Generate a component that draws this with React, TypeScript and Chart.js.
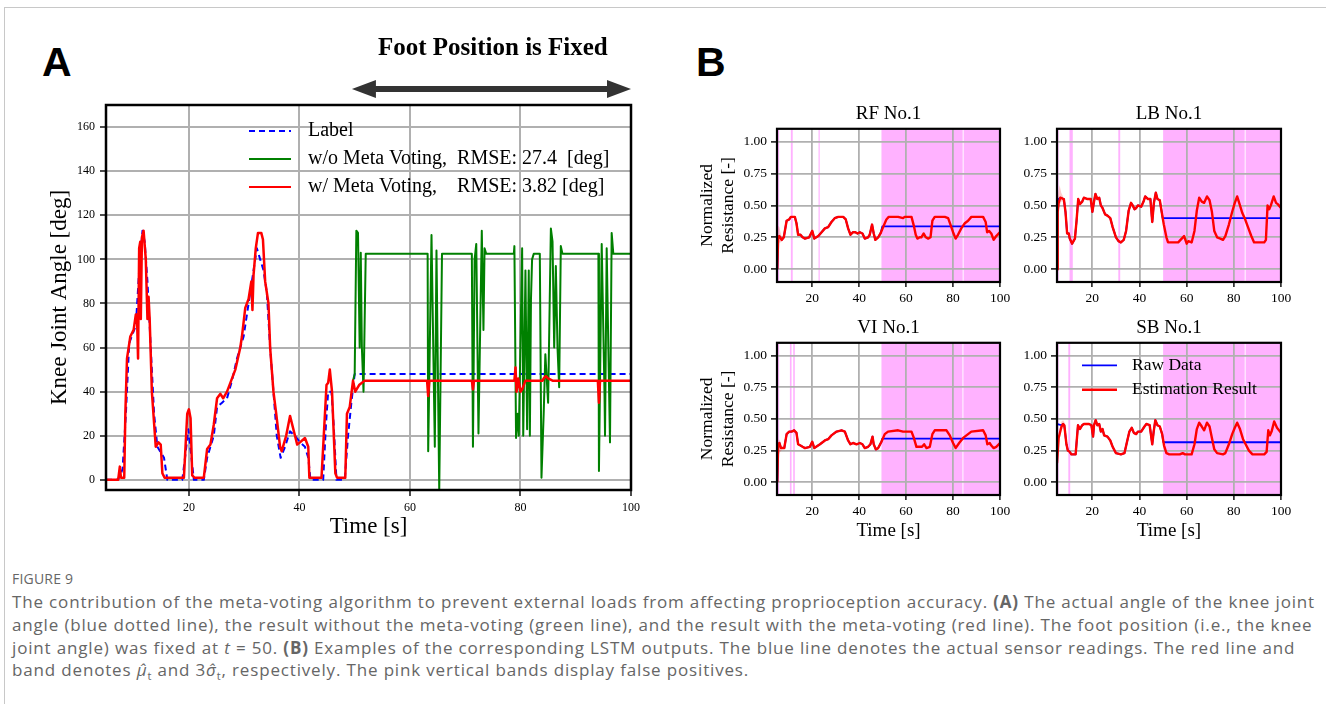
import React, { useEffect, useRef } from 'react';
import { Chart, registerables } from 'chart.js';

Chart.register(...registerables);

const SERIF = "'Liberation Serif', 'Times New Roman', Times, serif";
const SANS = "'Open Sans', 'Noto Sans', Arial, sans-serif";
const GRID = '#b0b0b0';
const PINK = 'rgba(255, 0, 255, 0.3)';
const BAND = 'rgba(255, 0, 0, 0.2)';
const BLUE = '#0000ff';
const RED = '#ff0000';
const GREEN = '#008000';

// ---------------- Panel A ----------------
const aTimeTicks = [20, 40, 60, 80, 100];
const aAngleTicks = [0, 20, 40, 60, 80, 100, 120, 140, 160];

const labelTime = [5.0, 7.1, 7.6, 8.0, 8.6, 9.2, 10.4, 11.0, 11.6, 12.0, 12.5, 13.1, 13.7, 14.3, 15.5, 16.1, 18.8, 19.4, 19.9, 20.9, 22.7, 23.3, 23.9, 24.5, 25.1, 26.0, 26.9, 27.8, 28.7, 29.9, 30.8, 31.7, 32.3, 32.9, 33.5, 34.1, 34.7, 35.3, 35.9, 36.6, 37.4, 38.3, 39.2, 40.1, 41.0, 41.6, 42.0, 44.3, 44.8, 45.2, 45.8, 46.2, 46.7, 48.2, 48.8, 49.4, 50.0, 100];
const labelAngle = [0, 0, 2, 5, 30, 62, 70, 95, 113, 108, 90, 60, 30, 15, 10, 0, 0, 12, 23, 0, 0, 10, 15, 20, 33, 35, 37, 45, 55, 65, 80, 95, 105, 100, 95, 85, 60, 40, 20, 10, 15, 22, 20, 17, 15, 10, 0, 0, 25, 40, 40, 25, 0, 0, 20, 35, 48, 48];

const woTime = [49.7, 50.0, 50.3, 50.6, 50.9, 51.1, 51.3, 51.6, 52.0, 63.2, 63.3, 63.9, 64.5, 64.8, 65.3, 65.8, 71.2, 71.4, 71.7, 72.0, 72.4, 73.0, 73.3, 73.5, 73.8, 78.8, 78.9, 79.2, 79.5, 79.7, 80.3, 80.5, 80.9, 81.2, 81.5, 81.7, 81.9, 82.1, 82.4, 83.5, 83.8, 84.2, 84.5, 85.0, 85.5, 85.8, 86.1, 86.4, 86.7, 87.0, 87.3, 87.6, 94.1, 94.2, 94.7, 95.2, 95.3, 95.6, 95.9, 96.2, 96.5, 96.8, 100];
const woAngle = [45, 48, 113, 112, 60, 103, 60, 40, 102.5, 102.5, 13, 111, 15, 104, -4.5, 102.5, 102.5, 15, 100, 107, 21, 113, 68, 105, 102.5, 102.5, 106, 19, 30, 20, 105, 20, 95, 23, 95, 20, 82, 100, 102.5, 102.5, 1, 30, 57, 35, 114, 108, 60, 97, 60, 42, 106, 102.5, 102.5, 4, 107, 40, 20, 105, 60, 17, 112, 102.5, 102.5];

const wTime = [5.0, 7.2, 7.5, 7.7, 8.3, 8.5, 8.8, 9.4, 10.0, 10.4, 10.6, 10.8, 11.0, 11.2, 11.3, 11.5, 11.8, 12.2, 12.5, 12.7, 12.9, 13.3, 14.0, 14.5, 14.9, 15.2, 15.6, 19.1, 19.7, 20.0, 20.3, 20.6, 21.0, 22.7, 23.3, 23.9, 24.5, 25.1, 25.7, 26.2, 26.9, 27.5, 28.4, 29.3, 29.6, 30.2, 30.8, 31.3, 31.5, 31.7, 32.1, 32.5, 33.1, 33.4, 33.8, 34.4, 34.7, 35.3, 35.8, 36.5, 36.8, 37.6, 38.3, 39.2, 39.6, 40.1, 41.0, 41.6, 41.8, 44.0, 44.9, 45.2, 45.5, 45.9, 46.5, 46.8, 48.3, 48.6, 49.1, 49.7, 50.1, 50.8, 51.8, 63.1, 63.3, 63.5, 71.2, 71.4, 71.6, 78.9, 79.1, 79.3, 79.6, 80.0, 80.3, 80.9, 84.0, 84.2, 84.6, 85.0, 85.8, 94.0, 94.2, 94.4, 100];
const wAngle = [0, 0, 6, 1, 1, 30, 55, 65, 68, 75, 75, 55, 105, 108, 73, 110, 113, 100, 73, 83, 73, 40, 15, 17, 16, 3, 1, 1, 30, 32, 28, 2, 1, 1, 14, 16, 25, 37, 39, 37, 40, 44, 50, 60, 65, 78, 82, 90, 77, 93, 105, 112, 112, 109, 90, 80, 60, 40, 30, 15, 13, 20, 29, 20, 16, 17, 19, 15, 1, 1, 43, 44, 50, 40, 3, 1, 1, 30, 33, 45, 40, 43, 45, 45, 38, 45, 45, 41, 45, 45, 51, 40, 46, 40, 41, 45, 45, 46, 47, 46, 45, 45, 35, 45, 45];

// ---------------- Panel B ----------------
const bTimeTicks = [20, 40, 60, 80, 100];
const bResTicks = [0, 0.25, 0.5, 0.75, 1.0];

const rfTime = [5.1, 5.5, 6.0, 7.0, 7.9, 9.1, 10.2, 10.9, 12.6, 13.3, 14.0, 15.0, 15.9, 16.9, 18.7, 20.0, 20.9, 22.6, 24.0, 25.4, 26.8, 28.2, 29.6, 31.1, 33.2, 34.3, 35.3, 36.3, 37.4, 38.4, 39.3, 40.3, 41.4, 42.4, 43.8, 44.5, 45.5, 46.2, 46.9, 48.1, 49.1, 50.2, 51.6, 52.6, 56.6, 58.7, 59.4, 62.3, 63.3, 64.1, 64.8, 65.8, 66.5, 67.5, 68.4, 69.4, 70.4, 71.2, 72.2, 76.5, 77.9, 78.9, 80.0, 81.1, 82.1, 83.5, 85.0, 86.4, 87.8, 92.8, 93.9, 94.5, 95.3, 96.3, 97.3, 98.4, 100];
const rfEst = [0.0, 0.25, 0.26, 0.23, 0.25, 0.38, 0.39, 0.41, 0.41, 0.36, 0.27, 0.27, 0.25, 0.24, 0.25, 0.30, 0.24, 0.26, 0.29, 0.32, 0.33, 0.37, 0.40, 0.41, 0.41, 0.39, 0.32, 0.27, 0.29, 0.29, 0.28, 0.29, 0.28, 0.24, 0.25, 0.27, 0.35, 0.28, 0.23, 0.25, 0.28, 0.33, 0.39, 0.41, 0.41, 0.40, 0.41, 0.41, 0.34, 0.27, 0.24, 0.25, 0.25, 0.28, 0.25, 0.24, 0.25, 0.38, 0.41, 0.41, 0.40, 0.35, 0.29, 0.24, 0.27, 0.32, 0.36, 0.38, 0.41, 0.41, 0.37, 0.29, 0.30, 0.28, 0.23, 0.26, 0.29];
const rfRawLevel = 0.336;
const rfFixTime = 49.9;
const rfBands = [[5.1, 5.9], [10.9, 11.7], [22.7, 23.2], [49.5, 84.1], [84.5, 100]];
const rfSigmaTime = [5.2, 5.6, 6.0, 6.5, 7.0];
const rfSigmaHi = [0.28, 0.34, 0.33, 0.29, 0.26];
const rfSigmaLo = [0.05, 0.19, 0.21, 0.21, 0.22];

const lbTime = [5.0, 5.3, 5.7, 6.4, 7.9, 8.6, 9.3, 10.0, 10.4, 11.4, 12.6, 13.3, 14.0, 14.7, 15.7, 16.4, 17.9, 19.3, 20.0, 20.7, 21.3, 22.1, 22.9, 23.6, 24.3, 25.4, 26.4, 27.6, 28.6, 30.0, 31.1, 32.1, 33.3, 34.3, 35.4, 36.4, 37.1, 37.9, 38.6, 39.3, 40.7, 41.7, 42.4, 43.6, 44.6, 45.4, 46.1, 46.9, 47.6, 48.6, 49.3, 50.3, 51.4, 52.1, 56.4, 57.9, 58.9, 60.0, 60.7, 62.1, 63.3, 64.3, 65.3, 66.4, 67.4, 68.6, 69.7, 70.7, 71.7, 72.9, 74.3, 75.4, 76.4, 77.9, 79.3, 80.4, 81.4, 82.6, 83.6, 84.6, 86.0, 87.4, 88.6, 92.9, 93.6, 94.3, 95.0, 95.7, 96.9, 97.9, 98.6, 100];
const lbEst = [0.0, 0.45, 0.52, 0.56, 0.55, 0.45, 0.28, 0.28, 0.24, 0.20, 0.24, 0.38, 0.55, 0.51, 0.53, 0.56, 0.55, 0.55, 0.45, 0.53, 0.59, 0.55, 0.56, 0.50, 0.48, 0.43, 0.42, 0.40, 0.33, 0.25, 0.22, 0.21, 0.23, 0.30, 0.46, 0.52, 0.50, 0.47, 0.48, 0.50, 0.49, 0.53, 0.57, 0.55, 0.55, 0.37, 0.52, 0.60, 0.55, 0.54, 0.46, 0.35, 0.25, 0.21, 0.21, 0.24, 0.26, 0.20, 0.22, 0.21, 0.30, 0.46, 0.56, 0.53, 0.52, 0.57, 0.54, 0.45, 0.30, 0.25, 0.24, 0.23, 0.26, 0.35, 0.45, 0.52, 0.57, 0.50, 0.44, 0.40, 0.33, 0.26, 0.21, 0.21, 0.23, 0.50, 0.47, 0.50, 0.57, 0.52, 0.51, 0.48];
const lbRawHeadTime = [5.0, 5.7];
const lbRawHead = [0.50, 0.55];
const lbRawLevel = 0.40;
const lbFixTime = 49.8;
const lbBands = [[5.0, 5.7], [10.3, 11.7], [31.0, 31.8], [50.0, 84.6], [85.0, 100]];
const lbSigmaTime = [5.2, 5.6, 6.1, 6.8, 7.6];
const lbSigmaHi = [0.50, 0.60, 0.66, 0.60, 0.57];
const lbSigmaLo = [0.30, 0.46, 0.50, 0.53, 0.53];

const viTime = [5.1, 5.5, 6.0, 6.7, 8.1, 9.1, 10.2, 11.2, 12.3, 13.3, 14.0, 15.0, 15.9, 16.9, 19.0, 20.0, 20.9, 23.3, 25.4, 26.8, 28.2, 30.4, 32.5, 33.9, 35.3, 36.3, 37.4, 38.9, 40.3, 41.4, 42.4, 43.8, 44.8, 45.7, 46.2, 47.1, 48.1, 49.5, 50.9, 52.3, 56.6, 58.7, 62.3, 63.3, 64.4, 65.5, 66.8, 67.7, 68.7, 70.1, 71.2, 72.2, 77.2, 78.6, 80.0, 81.1, 82.6, 84.3, 86.4, 87.8, 92.8, 93.9, 94.6, 95.6, 96.3, 97.3, 98.4, 100];
const viEst = [0.0, 0.30, 0.31, 0.27, 0.27, 0.38, 0.40, 0.40, 0.41, 0.39, 0.30, 0.29, 0.28, 0.27, 0.28, 0.32, 0.27, 0.30, 0.33, 0.34, 0.37, 0.40, 0.41, 0.40, 0.33, 0.30, 0.31, 0.30, 0.31, 0.30, 0.27, 0.28, 0.30, 0.36, 0.30, 0.26, 0.27, 0.32, 0.38, 0.40, 0.41, 0.40, 0.40, 0.35, 0.28, 0.28, 0.28, 0.30, 0.27, 0.28, 0.38, 0.41, 0.41, 0.37, 0.31, 0.27, 0.31, 0.35, 0.38, 0.40, 0.41, 0.37, 0.30, 0.31, 0.29, 0.27, 0.28, 0.31];
const viRawLevel = 0.345;
const viFixTime = 49.9;
const viBands = [[5.1, 5.9], [10.5, 11.2], [11.9, 12.6], [49.5, 84.0], [84.4, 100]];
const viSigmaTime = [5.3, 5.8, 6.3, 7.0];
const viSigmaHi = [0.30, 0.34, 0.33, 0.29];
const viSigmaLo = [0.10, 0.22, 0.24, 0.25];

const sbTime = [5.0, 5.7, 6.9, 7.6, 8.1, 9.0, 9.6, 10.4, 11.1, 12.9, 13.9, 14.7, 15.7, 16.4, 18.6, 19.6, 20.3, 20.7, 21.4, 22.1, 22.9, 23.6, 24.3, 25.0, 26.4, 27.6, 28.6, 30.0, 32.1, 33.6, 34.7, 35.7, 36.7, 37.6, 38.6, 39.3, 40.7, 42.1, 42.9, 44.3, 45.4, 46.0, 46.7, 47.6, 48.6, 49.6, 50.4, 51.4, 52.6, 57.1, 58.3, 59.3, 62.1, 63.3, 64.3, 65.3, 66.4, 67.4, 68.6, 69.7, 70.7, 71.7, 72.9, 75.4, 76.4, 77.9, 79.3, 80.4, 81.4, 82.6, 83.9, 85.0, 86.4, 87.9, 92.9, 93.9, 94.6, 95.3, 96.0, 97.1, 98.3, 100];
const sbEst = [0.15, 0.35, 0.44, 0.46, 0.45, 0.30, 0.25, 0.24, 0.22, 0.22, 0.45, 0.42, 0.45, 0.46, 0.46, 0.45, 0.36, 0.45, 0.49, 0.45, 0.46, 0.40, 0.42, 0.37, 0.36, 0.33, 0.28, 0.23, 0.22, 0.23, 0.32, 0.40, 0.43, 0.39, 0.38, 0.40, 0.40, 0.44, 0.46, 0.45, 0.30, 0.40, 0.49, 0.45, 0.44, 0.38, 0.29, 0.23, 0.22, 0.22, 0.23, 0.22, 0.22, 0.30, 0.42, 0.47, 0.44, 0.41, 0.47, 0.44, 0.35, 0.26, 0.23, 0.22, 0.23, 0.30, 0.38, 0.43, 0.47, 0.42, 0.34, 0.30, 0.25, 0.22, 0.22, 0.24, 0.41, 0.37, 0.40, 0.48, 0.43, 0.39];
const sbRawHeadTime = [5.0, 6.9];
const sbRawHead = [0.46, 0.45];
const sbRawLevel = 0.316;
const sbFixTime = 50.1;
const sbBands = [[5.0, 5.7], [9.8, 10.6], [50.0, 84.6], [85.0, 100]];
const sbSigmaTime = [6.0, 6.9, 7.6, 8.3];
const sbSigmaHi = [0.42, 0.48, 0.49, 0.47];
const sbSigmaLo = [0.33, 0.41, 0.43, 0.42];

// ---------------- helpers ----------------
type Pt = { x: number; y: number };
const pts = (xs: number[], ys: number[]): Pt[] => xs.map((x, i) => ({ x, y: ys[i] }));

function rawSeries(time: number[], est: number[], headT: number[], headY: number[], fixT: number, level: number): Pt[] {
  const out: Pt[] = headT.map((t, i) => ({ x: t, y: headY[i] }));
  const start = headT.length ? headT[headT.length - 1] : -1;
  time.forEach((t, i) => {
    if (t > start && t < fixT) out.push({ x: t, y: est[i] });
  });
  out.push({ x: fixT, y: level }, { x: 100, y: level });
  return out;
}

interface LegendItem { text: string; color: string; width: number; dash?: number[] }
interface Decor {
  bands?: number[][];
  frameWidth: number;
  legend?: { dx: number; dy: number; rowH: number; lineLen: number; textDx: number; font: string; items: LegendItem[] };
  header?: { text: string; font: string; textT: number; textDy: number; fromT: number; toT: number; arrowDy: number };
}

function decorPlugin(d: Decor) {
  return {
    id: 'decor',
    beforeDraw(chart: any) {
      if (!d.bands) return;
      const { ctx, chartArea: ca, scales } = chart;
      const xs = scales.x;
      ctx.save();
      ctx.fillStyle = PINK;
      d.bands.forEach(([a, b]) => {
        const x0 = xs.getPixelForValue(a);
        const x1 = xs.getPixelForValue(b);
        ctx.fillRect(x0, ca.top, x1 - x0, ca.bottom - ca.top);
      });
      ctx.restore();
    },
    afterDraw(chart: any) {
      const { ctx, chartArea: ca, scales } = chart;
      ctx.save();
      ctx.strokeStyle = '#000';
      ctx.lineWidth = d.frameWidth;
      ctx.strokeRect(ca.left, ca.top, ca.right - ca.left, ca.bottom - ca.top);
      if (d.legend) {
        const L = d.legend;
        ctx.font = L.font;
        ctx.textBaseline = 'middle';
        ctx.textAlign = 'left';
        L.items.forEach((it, i) => {
          const y = ca.top + L.dy + i * L.rowH;
          const x0 = ca.left + L.dx;
          ctx.beginPath();
          ctx.setLineDash(it.dash || []);
          ctx.strokeStyle = it.color;
          ctx.lineWidth = it.width;
          ctx.moveTo(x0, y);
          ctx.lineTo(x0 + L.lineLen, y);
          ctx.stroke();
          ctx.setLineDash([]);
          ctx.fillStyle = '#000';
          ctx.fillText(it.text, ca.left + L.textDx, y);
        });
      }
      if (d.header) {
        const H = d.header;
        const xs = scales.x;
        ctx.font = H.font;
        ctx.fillStyle = '#000';
        ctx.textAlign = 'center';
        ctx.textBaseline = 'middle';
        ctx.fillText(H.text, xs.getPixelForValue(H.textT), ca.top + H.textDy);
        const y = ca.top + H.arrowDy;
        const x0 = xs.getPixelForValue(H.fromT);
        const x1 = xs.getPixelForValue(H.toT);
        const hl = 24, hh = 9, sh = 3;
        ctx.fillStyle = '#333333';
        ctx.beginPath();
        ctx.moveTo(x0, y);
        ctx.lineTo(x0 + hl, y - hh);
        ctx.lineTo(x0 + hl, y - sh);
        ctx.lineTo(x1 - hl, y - sh);
        ctx.lineTo(x1 - hl, y - hh);
        ctx.lineTo(x1, y);
        ctx.lineTo(x1 - hl, y + hh);
        ctx.lineTo(x1 - hl, y + sh);
        ctx.lineTo(x0 + hl, y + sh);
        ctx.lineTo(x0 + hl, y + hh);
        ctx.closePath();
        ctx.fill();
      }
      ctx.restore();
    },
  };
}

function axis(o: {
  horizontal: boolean; min: number; max: number; ticks: number[]; size: number; fontSize: number;
  tickLen: number; pad: number; fmt: (v: number) => string; gridW: number;
  title?: { text: string | string[]; size: number; top: number; bottom: number };
}) {
  return {
    type: 'linear',
    min: o.min,
    max: o.max,
    afterBuildTicks: (s: any) => { s.ticks = o.ticks.map((v) => ({ value: v })); },
    afterFit: (s: any) => { if (o.horizontal) s.height = o.size; else s.width = o.size; },
    grid: { color: GRID, lineWidth: o.gridW, drawTicks: true, tickLength: o.tickLen, tickColor: '#000', tickWidth: 1.4 },
    border: { display: false },
    ticks: {
      font: { family: SERIF, size: o.fontSize }, color: '#000', padding: o.pad,
      maxRotation: 0, minRotation: 0, autoSkip: false,
      callback: (v: any) => o.fmt(Number(v)),
    },
    title: o.title
      ? { display: true, text: o.title.text, color: '#000', font: { family: SERIF, size: o.title.size }, padding: { top: o.title.top, bottom: o.title.bottom } }
      : { display: false },
  };
}

const baseOpts = { responsive: false, animation: false, devicePixelRatio: 1, events: [] as any[] };

// Chart.js draws the first dataset on top, so the list runs from front to back.
function configA(): any {
  return {
    type: 'line',
    data: {
      datasets: [
        { data: pts(wTime, wAngle), borderColor: RED, borderWidth: 2.5, pointRadius: 0, tension: 0, fill: false, borderJoinStyle: 'round' },
        { data: pts(woTime, woAngle), borderColor: GREEN, borderWidth: 2, pointRadius: 0, tension: 0, fill: false, borderJoinStyle: 'round' },
        { data: pts(labelTime, labelAngle), borderColor: BLUE, borderWidth: 2, borderDash: [6, 4], pointRadius: 0, tension: 0, fill: false, borderJoinStyle: 'round' },
      ],
    },
    options: {
      ...baseOpts,
      layout: { padding: { left: 0, right: 19, top: 85, bottom: 0 } },
      plugins: { legend: { display: false }, tooltip: { enabled: false }, title: { display: false } },
      scales: {
        x: axis({ horizontal: true, min: 5, max: 100, ticks: aTimeTicks, size: 55, fontSize: 12, tickLen: 6, pad: 5, fmt: (v) => String(v), gridW: 2,
          title: { text: 'Time [s]', size: 23, top: 0, bottom: 4 } }),
        y: axis({ horizontal: false, min: -4.6, max: 170, ticks: aAngleTicks, size: 86, fontSize: 12, tickLen: 6, pad: 5, fmt: (v) => String(v), gridW: 2,
          title: { text: 'Knee Joint Angle [deg]', size: 23, top: 26, bottom: 0 } }),
      },
    },
    plugins: [decorPlugin({
      frameWidth: 2.5,
      legend: {
        dx: 143, dy: 26, rowH: 28, lineLen: 42, textDx: 202, font: `20px ${SERIF}`,
        items: [
          { text: 'Label', color: BLUE, width: 2, dash: [6, 4] },
          { text: 'w/o Meta Voting,  RMSE: 27.4  [deg]', color: GREEN, width: 2.2 },
          { text: 'w/ Meta Voting,    RMSE: 3.82 [deg]', color: RED, width: 2.2 },
        ],
      },
      header: { text: 'Foot Position is Fixed', font: `bold 25px ${SERIF}`, textT: 75, textDy: -56, fromT: 49.5, toT: 100, arrowDy: -16 },
    })],
  };
}

function configB(o: {
  title: string; time: number[]; est: number[]; raw: Pt[]; bands: number[][]; yW: number; xH: number;
  sigmaT: number[]; sigmaHi: number[]; sigmaLo: number[];
  yTitle: boolean; xTitle: boolean; legend: boolean;
}): any {
  return {
    type: 'line',
    data: {
      datasets: [
        { data: pts(o.time, o.est), borderColor: RED, borderWidth: 2.4, pointRadius: 0, tension: 0, fill: false, borderJoinStyle: 'round' },
        { data: o.raw, borderColor: BLUE, borderWidth: 1.8, pointRadius: 0, tension: 0, fill: false, borderJoinStyle: 'round' },
        { data: pts(o.sigmaT, o.sigmaHi), borderWidth: 0, borderColor: 'rgba(0,0,0,0)', pointRadius: 0, tension: 0, fill: false },
        { data: pts(o.sigmaT, o.sigmaLo), borderWidth: 0, borderColor: 'rgba(0,0,0,0)', backgroundColor: BAND, pointRadius: 0, tension: 0, fill: '-1' },
      ],
    },
    options: {
      ...baseOpts,
      layout: { padding: { left: 0, right: 20, top: 0, bottom: 0 } },
      plugins: {
        legend: { display: false },
        tooltip: { enabled: false },
        title: { display: true, text: o.title, fullSize: false, color: '#000', font: { family: SERIF, size: 19, weight: 'normal' }, padding: { top: 0, bottom: 3 } },
      },
      scales: {
        x: axis({ horizontal: true, min: 5, max: 100, ticks: bTimeTicks, size: o.xH, fontSize: 13.5, tickLen: 5, pad: 3, fmt: (v) => String(v), gridW: 1.8,
          title: o.xTitle ? { text: 'Time [s]', size: 19, top: 0, bottom: 3 } : undefined }),
        y: axis({ horizontal: false, min: -0.1, max: 1.1, ticks: bResTicks, size: o.yW, fontSize: 13.5, tickLen: 6, pad: 4, fmt: (v) => v.toFixed(2), gridW: 1.8,
          title: o.yTitle ? { text: ['Normalized', 'Resistance [-]'], size: 17.5, top: 7, bottom: 0 } : undefined }),
      },
    },
    plugins: [decorPlugin({
      bands: o.bands,
      frameWidth: 2.2,
      legend: o.legend
        ? {
            dx: 25, dy: 22.5, rowH: 24.5, lineLen: 35, textDx: 75, font: `17.5px ${SERIF}`,
            items: [
              { text: 'Raw Data', color: BLUE, width: 1.8 },
              { text: 'Estimation Result', color: RED, width: 2.4 },
            ],
          }
        : undefined,
    })],
  };
}

const CAPTION_LEFT = 12;
const CAPTION_LINE1_WIDTH = 1303;

export default function App() {
  const aRef = useRef<HTMLCanvasElement>(null);
  const rfRef = useRef<HTMLCanvasElement>(null);
  const lbRef = useRef<HTMLCanvasElement>(null);
  const viRef = useRef<HTMLCanvasElement>(null);
  const sbRef = useRef<HTMLCanvasElement>(null);
  const capRef = useRef<HTMLDivElement>(null);
  const line1Ref = useRef<HTMLSpanElement>(null);

  useEffect(() => {
    document.body.style.margin = '0';
    Chart.defaults.font.family = SERIF;
    Chart.defaults.color = '#000';
    const charts: Chart[] = [];
    charts.push(new Chart(aRef.current as HTMLCanvasElement, configA()));
    charts.push(new Chart(rfRef.current as HTMLCanvasElement, configB({
      title: 'RF No.1', time: rfTime, est: rfEst, raw: rawSeries(rfTime, rfEst, [], [], rfFixTime, rfRawLevel),
      bands: rfBands, yW: 87, xH: 25, sigmaT: rfSigmaTime, sigmaHi: rfSigmaHi, sigmaLo: rfSigmaLo,
      yTitle: true, xTitle: false, legend: false,
    })));
    charts.push(new Chart(lbRef.current as HTMLCanvasElement, configB({
      title: 'LB No.1', time: lbTime, est: lbEst, raw: rawSeries(lbTime, lbEst, lbRawHeadTime, lbRawHead, lbFixTime, lbRawLevel),
      bands: lbBands, yW: 57, xH: 25, sigmaT: lbSigmaTime, sigmaHi: lbSigmaHi, sigmaLo: lbSigmaLo,
      yTitle: false, xTitle: false, legend: false,
    })));
    charts.push(new Chart(viRef.current as HTMLCanvasElement, configB({
      title: 'VI No.1', time: viTime, est: viEst, raw: rawSeries(viTime, viEst, [], [], viFixTime, viRawLevel),
      bands: viBands, yW: 87, xH: 50, sigmaT: viSigmaTime, sigmaHi: viSigmaHi, sigmaLo: viSigmaLo,
      yTitle: true, xTitle: true, legend: false,
    })));
    charts.push(new Chart(sbRef.current as HTMLCanvasElement, configB({
      title: 'SB No.1', time: sbTime, est: sbEst, raw: rawSeries(sbTime, sbEst, sbRawHeadTime, sbRawHead, sbFixTime, sbRawLevel),
      bands: sbBands, yW: 57, xH: 50, sigmaT: sbSigmaTime, sigmaHi: sbSigmaHi, sigmaLo: sbSigmaLo,
      yTitle: false, xTitle: true, legend: true,
    })));

    // widen caption tracking so that its first line spans the same width as the reference
    const fit = () => {
      const cap = capRef.current;
      const l1 = line1Ref.current;
      if (!cap || !l1) return;
      cap.style.letterSpacing = '0px';
      const w = l1.getBoundingClientRect().width;
      const n = (l1.textContent || '').length;
      if (n > 0) cap.style.letterSpacing = `${(CAPTION_LINE1_WIDTH - w) / n}px`;
    };
    fit();
    if ((document as any).fonts && (document as any).fonts.ready) (document as any).fonts.ready.then(fit);

    return () => charts.forEach((c) => c.destroy());
  }, []);

  const abs = (l: number, t: number): React.CSSProperties => ({ position: 'absolute', left: l, top: t });
  const panelLetter: React.CSSProperties = { font: "bold 41px 'Liberation Sans', Arial, sans-serif", lineHeight: '41px', color: '#000' };
  const capLine: React.CSSProperties = { whiteSpace: 'pre' };

  return (
    <div style={{ position: 'absolute', left: 0, top: 0, width: 1326, height: 704, overflow: 'hidden', background: '#fff' }}>
      <div style={{ position: 'absolute', left: 4, top: 7, width: 1400, height: 800, border: '1px solid #c8c8c8', boxSizing: 'border-box' }} />
      <div style={{ ...abs(42, 42), ...panelLetter }}>A</div>
      <div style={{ ...abs(696, 42), ...panelLetter }}>B</div>
      <canvas ref={aRef} width={630} height={525} style={abs(20, 20)} />
      <canvas ref={rfRef} width={330} height={204} style={abs(690, 103)} />
      <canvas ref={lbRef} width={301} height={204} style={abs(1000, 103)} />
      <canvas ref={viRef} width={330} height={228} style={abs(690, 317)} />
      <canvas ref={sbRef} width={301} height={228} style={abs(1000, 317)} />
      <div style={{ ...abs(CAPTION_LEFT, 570), font: `14px ${SANS}`, lineHeight: '18px', color: '#666', letterSpacing: '0.2px' }}>FIGURE 9</div>
      <div ref={capRef} style={{ ...abs(CAPTION_LEFT, 591), font: `17px ${SANS}`, lineHeight: '22.8px', color: '#666' }}>
        <div style={capLine}><span ref={line1Ref}>The contribution of the meta-voting algorithm to prevent external loads from affecting proprioception accuracy. <b>(A)</b> The actual angle of the knee joint</span></div>
        <div style={capLine}>angle (blue dotted line), the result without the meta-voting (green line), and the result with the meta-voting (red line). The foot position (i.e., the knee</div>
        <div style={capLine}>joint angle) was fixed at <i>t</i> = 50. <b>(B)</b> Examples of the corresponding LSTM outputs. The blue line denotes the actual sensor readings. The red line and</div>
        <div style={capLine}>band denotes <i>{'\u03BC\u0302'}</i><sub style={{ fontSize: '11px' }}>t</sub> and 3<i>{'\u03C3\u0302'}</i><sub style={{ fontSize: '11px' }}>t</sub>, respectively. The pink vertical bands display false positives.</div>
      </div>
    </div>
  );
}
